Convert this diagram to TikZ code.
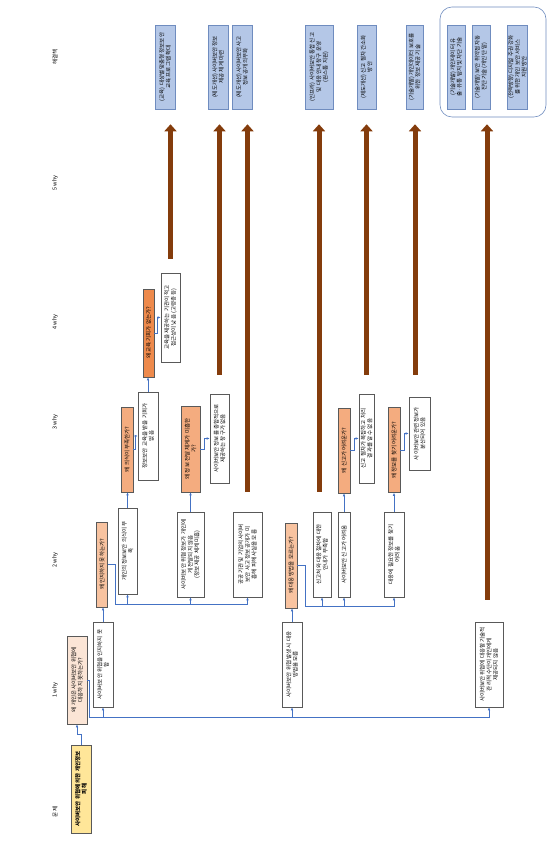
\documentclass[tikz,border=0pt]{standalone}
\usepackage{fontspec}
\setmainfont{Noto Sans CJK KR}
\usetikzlibrary{arrows.meta}
\definecolor{probfill}{HTML}{FFE699}
\definecolor{whyA}{HTML}{FBE5D6}
\definecolor{whyB}{HTML}{F8C3A0}
\definecolor{whyC}{HTML}{F4AC7F}
\definecolor{whyD}{HTML}{EE8A4C}
\definecolor{solfill}{HTML}{B4C7E7}
\definecolor{soledge}{HTML}{6F8CBF}
\definecolor{linkblue}{HTML}{4472C4}
\definecolor{fixbrown}{HTML}{843C0C}
\tikzset{
  title/.style={rotate=90,font=\fontsize{5.5}{6.5}\selectfont},
  box/.style={draw=black!65,line width=0.6pt,rotate=90,align=center,inner sep=1pt,
    font=\fontsize{5.5}{6.6}\selectfont},
  prob/.style={box,fill=probfill,font=\fontsize{5.5}{6.6}\selectfont\bfseries},
  ans/.style={box,fill=white},
  sol/.style={box,draw=soledge,fill=solfill},
  link/.style={draw=linkblue,line width=0.6pt,-{Latex[length=3pt,width=2.6pt]}},
  fix/.style={draw=fixbrown,line width=5pt,-{Triangle[length=7pt,width=12pt]}}
}
\begin{document}
\begin{tikzpicture}[x=1pt,y=1pt]
\useasboundingbox (0,0) rectangle (548,867);
% column titles
\node (tProb)[title] at (55,55) {문제};
\node (tWhy1)[title] at (55,177) {1 why};
\node (tWhy2)[title] at (55,307) {2 why};
\node (tWhy3)[title] at (55,445) {3 why};
\node (tWhy4)[title] at (55,545) {4 why};
\node (tWhy5)[title] at (55,684) {5 why};
\node (tSol)[title] at (55,810) {해결책};

% problem and 1 why
\node (P)[prob,minimum width=88pt,minimum height=20pt] at (81,78)
  {사이버보안 위협에 의한 개인정보\\ 피해};
\node (Q1)[box,fill=whyA,minimum width=88pt,minimum height=20pt] at (77,187)
  {왜 개인은 사이버보안 위협에\\ 대응하지 못하는가?};
\node (A1a)[ans,minimum width=85pt,minimum height=20pt] at (103,202.5)
  {사이버보안 위협을 인지하지 못\\ 함};
\node (A1b)[ans,minimum width=85pt,minimum height=20pt] at (292,202.5)
  {사이버보안 위협 발생 시 대응\\ 방법을 모름};
\node (A1c)[ans,minimum width=85pt,minimum height=28pt] at (489,202.5)
  {사이버보안 위협에 대응할 기술적\\ 관리적 수단이 개인에게\\ 제공되지 않음};

% 2 why
\node (Q2a)[box,fill=whyB,minimum width=85pt,minimum height=11pt] at (102,302.5)
  {왜 인지하지 못하는가?};
\node (A2a1)[ans,minimum width=86pt,minimum height=19pt] at (127.5,316)
  {개인의 정보보안 의식이 부\\ 족};
\node (A2a2)[ans,minimum width=85pt,minimum height=27pt] at (190.5,312.5)
  {사이버보안 위협 정보가 개인에\\ 게 전달되지 않음\\ (정보 제공 체계 미흡)};
\node (A2a3)[ans,minimum width=85pt,minimum height=29pt] at (247.5,312.5)
  {공공 기관 및 기업의 사이버\\ 보안 사고 정보 공개가 미\\ 흡해 피해 사실을 모름};
\node (Q2b)[box,fill=whyB,minimum width=85pt,minimum height=12pt] at (291,301.5)
  {왜 대응 방법을 모르는가?};
\node (A2b1)[ans,minimum width=85pt,minimum height=18pt] at (322,312.5)
  {신고처와 대응 절차에 대한\\ 안내가 부족함};
\node (A2b2)[ans,minimum width=85pt,minimum height=12pt] at (344,312.5)
  {사이버보안 신고가 어려움};
\node (A2b3)[ans,minimum width=85pt,minimum height=20pt] at (394,312.5)
  {대응에 필요한 정보를 찾기\\ 어려움};

% 3 why and 4 why
\node (Q3a)[box,fill=whyC,minimum width=85pt,minimum height=12pt] at (127,417.5)
  {왜 의식이 부족한가?};
\node (A3a)[ans,minimum width=88pt,minimum height=20pt] at (148,431)
  {정보보안 교육을 받을 기회가\\ 없음};
\node (Q4)[box,fill=whyD,minimum width=88pt,minimum height=11pt] at (148.5,534)
  {왜 교육 기회가 없는가?};
\node (A4)[ans,minimum width=89pt,minimum height=19pt] at (170.5,549.5)
  {교육을 제공하는 기관이 적고\\ 접근성이 낮음 (고령층 등)};
\node (Q3b)[box,fill=whyC,minimum width=86pt,minimum height=19pt] at (190.5,418)
  {왜 정보 전달 체계가 미흡한\\ 가?};
\node (A3b)[ans,minimum width=89pt,minimum height=19pt] at (219.5,428.5)
  {사이버보안 정보를 종합적으로\\ 제공하는 창구가 없음};
\node (Q3c)[box,fill=whyC,minimum width=85pt,minimum height=12pt] at (344,416.5)
  {왜 신고가 어려운가?};
\node (A3c)[ans,minimum width=89pt,minimum height=15pt] at (366.5,428.5)
  {신고 절차가 복잡하고 처리\\ 결과를 알 수 없음};
\node (Q3d)[box,fill=whyC,minimum width=85pt,minimum height=12pt] at (394,417)
  {왜 정보를 찾기 어려운가?};
\node (A3d)[ans,minimum width=73pt,minimum height=21pt] at (419.5,433.5)
  {사이버보안 관련 정보가\\ 분산되어 있음};

% solutions
\node (S1)[sol,minimum width=84pt,minimum height=20pt] at (165,800)
  {(교육) 대상별 맞춤형 정보보안\\ 교육 프로그램 확대};
\node (S2)[sol,minimum width=84pt,minimum height=20pt] at (218,800)
  {(제도개선) 사이버보안 정보\\ 제공 체계 마련};
\node (S3)[sol,minimum width=84pt,minimum height=20pt] at (242,800)
  {(제도개선) 사이버보안 사고\\ 정보 공개 의무화};
\node (S4)[sol,minimum width=84pt,minimum height=28pt] at (319,800)
  {(인프라) 사이버보안 통합 신고\\ 및 대응 안내 창구 운영\\ (원스톱 지원)};
\node (S5)[sol,minimum width=84pt,minimum height=19pt] at (366.5,800)
  {(제도개선) 신고 절차 간소화\\ 방안};
\node (S6)[sol,minimum width=84pt,minimum height=17pt] at (414.5,800)
  {(기술개발) 개인데이터 보호를\\ 위한 정보 제공 기술};
\node (S7)[sol,minimum width=84pt,minimum height=18pt] at (456,800)
  {(기술개발) 개인데이터 유\\ 출·유통 탐지 및 차단 기술};
\node (S8)[sol,minimum width=84pt,minimum height=18pt] at (481,800)
  {(기술개발) 보안 취약점 자동\\ 진단 기술 (개인 단말)};
\node (S9)[sol,minimum width=84pt,minimum height=19pt] at (517.5,800)
  {(전략방향) 디지털 주권 강화\\ 를 위한 개인 보안 서비스\\ 지원 방안};
\draw[soledge,line width=0.6pt,rounded corners=12pt] (440,750) rectangle (546,860);

% connections
\draw[link] (P.east) -- ++(0,10) -| (Q1.west);
\draw[link] (Q1.south) -- ++(2,0) -- ++(0,-37) -| (A1a.west);
\draw[link] (Q1.south) -- ++(2,0) -- ++(0,-37) -| (A1b.west);
\draw[link] (Q1.south) -- ++(2,0) -- ++(0,-37) -| (A1c.west);
\draw[link] (A1a.east) -- (A1a.east |- Q2a.west);
\draw[link] (A1b.east) -- (A1b.east |- Q2b.west);
\draw[link] (Q2a.south) -- ++(7,0) -- ++(0,-39.5) -| (A2a1.west);
\draw[link] (Q2a.south) -- ++(7,0) -- ++(0,-39.5) -| (A2a2.west);
\draw[link] (Q2a.south) -- ++(7,0) -- ++(0,-39.5) -| (A2a3.west);
\draw[link] (Q2b.south) -- ++(8,0) -- ++(0,-40.5) -| (A2b1.west);
\draw[link] (Q2b.south) -- ++(8,0) -- ++(0,-40.5) -| (A2b2.west);
\draw[link] (Q2b.south) -- ++(8,0) -- ++(0,-40.5) -| (A2b3.west);
\draw[link] (A2a1.east) -- (A2a1.east |- Q3a.west);
\draw[link] (A2a2.east) -- (A2a2.east |- Q3b.west);
\draw[link] (A2b2.east) -- (A2b2.east |- Q3c.west);
\draw[link] (A2b3.east) -- (A2b3.east |- Q3d.west);
\draw[link] (Q3a.south) -- ++(2,0) |- (A3a.north);
\draw[link] (Q3b.south) -- ++(4,0) |- (A3b.north);
\draw[link] (Q3c.south) -- ++(4,0) |- (A3c.north);
\draw[link] (Q3d.south) -- ++(4,0) |- (A3d.north);
\draw[link] (A3a.east) -- (A3a.east |- Q4.west);
\draw[link] (Q4.south) -- ++(3,0) |- (A4.north);

% the way to the solutions
\draw[fix,shorten <=14pt,shorten >=15pt] (A4.east) -- (A4.east |- S1.west);
\draw[fix,shorten <=19pt,shorten >=15pt] (A3b.east) -- (A3b.east |- S2.west);
\draw[fix,shorten <=20pt,shorten >=15pt] (A2a3.east) -- (A2a3.east |- S3.west);
\draw[fix,shorten <=20pt,shorten >=15pt] ([xshift=-3pt]A2b1.east) -- ([xshift=-3pt]A2b1.east |- S4.west);
\draw[fix,shorten <=19pt,shorten >=15pt] (A3c.east) -- (A3c.east |- S5.west);
\draw[fix,shorten <=22pt,shorten >=15pt] ([xshift=-4.5pt]A3d.east) -- ([xshift=-4.5pt]A3d.east |- S6.west);
\draw[fix,shorten <=22pt,shorten >=15pt] ([xshift=-2pt]A1c.east) -- ([xshift=-2pt]A1c.east |- S8.west);
\end{tikzpicture}
\end{document}
